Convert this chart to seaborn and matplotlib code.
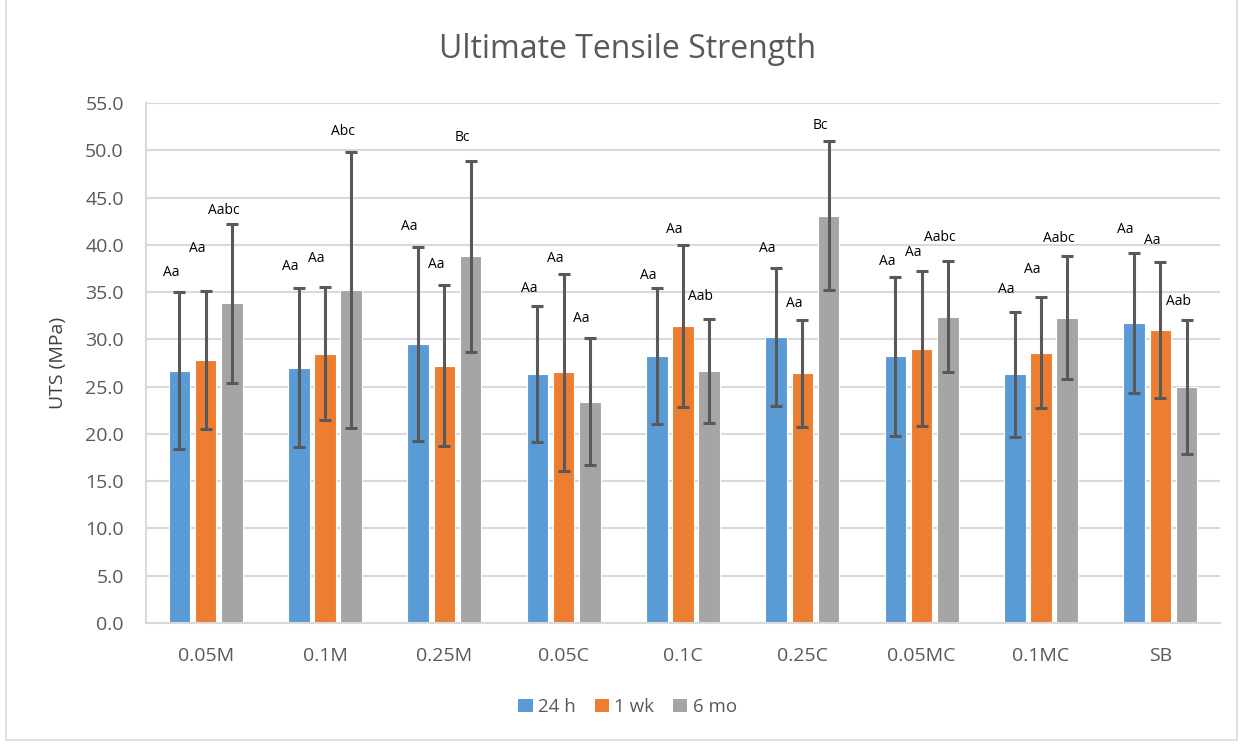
import matplotlib
matplotlib.use("Agg")
import matplotlib.pyplot as plt
import seaborn as sns
import pandas as pd
import numpy as np
from matplotlib.patches import Rectangle, Patch

categories = ["0.05M", "0.1M", "0.25M", "0.05C", "0.1C", "0.25C", "0.05MC", "0.1MC", "SB"]
series_names = ["24 h", "1 wk", "6 mo"]

mean_24h = [26.7, 27.0, 29.5, 26.3, 28.2, 30.3, 28.2, 26.3, 31.7]
mean_1wk = [27.8, 28.5, 27.2, 26.5, 31.4, 26.4, 29.0, 28.6, 31.0]
mean_6mo = [33.8, 35.2, 38.8, 23.4, 26.7, 43.1, 32.4, 32.3, 25.0]

sd_24h = [8.3, 8.4, 10.3, 7.2, 7.2, 7.3, 8.4, 6.6, 7.4]
sd_1wk = [7.3, 7.0, 8.5, 10.4, 8.6, 5.7, 8.2, 5.9, 7.2]
sd_6mo = [8.4, 14.6, 10.1, 6.7, 5.5, 7.9, 5.9, 6.5, 7.1]

labels_24h = ["Aa", "Aa", "Aa", "Aa", "Aa", "Aa", "Aa", "Aa", "Aa"]
labels_1wk = ["Aa", "Aa", "Aa", "Aa", "Aa", "Aa", "Aa", "Aa", "Aa"]
labels_6mo = ["Aabc", "Abc", "Bc", "Aa", "Aab", "Bc", "Aabc", "Aabc", "Aab"]

# label heights (data units)
label_y_24h = [37.1, 37.7, 41.9, 35.4, 36.8, 39.6, 38.2, 35.3, 41.6]
label_y_1wk = [39.6, 38.6, 37.9, 38.6, 41.6, 33.8, 39.2, 37.4, 40.5]
label_y_6mo = [43.6, 52.0, 51.3, 32.2, 34.5, 52.6, 40.8, 40.7, 34.0]

colors = ["#5B9BD5", "#ED7D31", "#A5A5A5"]

means = [mean_24h, mean_1wk, mean_6mo]
sds = [sd_24h, sd_1wk, sd_6mo]
labs = [labels_24h, labels_1wk, labels_6mo]
laby = [label_y_24h, label_y_1wk, label_y_6mo]

rows = []
for s, m in zip(series_names, means):
    for c, v in zip(categories, m):
        rows.append({"Group": c, "Time": s, "UTS": v})
df = pd.DataFrame(rows)

sns.set_style("white")
plt.rcParams["font.family"] = ["Open Sans", "DejaVu Sans"]

fig = plt.figure(figsize=(12.43, 7.44), dpi=100)
ax = fig.add_axes([146 / 1243, 1 - 623 / 744, (1220 - 146) / 1243, 520 / 744])

sns.barplot(data=df, x="Group", y="UTS", hue="Time", order=categories,
            hue_order=series_names, palette=colors, width=0.66, gap=0.18,
            errorbar=None, edgecolor="white", linewidth=0.8, ax=ax, legend=False,
            saturation=1)

bar_containers = list(ax.containers)
for i, cont in enumerate(bar_containers):
    xs = [b.get_x() + b.get_width() / 2 for b in cont.patches]
    ax.errorbar(xs, means[i], yerr=sds[i], fmt="none", ecolor="#595959",
                elinewidth=2.2, capsize=4, capthick=2.2, zorder=3)
    for x, t, yy in zip(xs, labs[i], laby[i]):
        ax.text(x - 0.07, yy, t, ha="center", va="center", fontsize=10,
                color="#000000")

ax.set_ylim(0, 55)
ax.set_xlim(-0.5, 8.5)
ax.set_yticks(np.arange(0, 55.1, 5))
ax.set_yticklabels([f"{v:.1f}" for v in np.arange(0, 55.1, 5)])
ax.yaxis.grid(True, color="#D9D9D9", linewidth=1.5)
ax.set_axisbelow(True)
for side in ["top", "right"]:
    ax.spines[side].set_visible(False)
ax.spines["left"].set_color("#D9D9D9")
ax.spines["left"].set_linewidth(1.5)
ax.spines["bottom"].set_color("#D9D9D9")
ax.spines["bottom"].set_linewidth(1.5)
ax.tick_params(axis="y", length=5, width=1.5, color="#D9D9D9", labelsize=14,
               labelcolor="#595959", pad=11)
ax.tick_params(axis="x", length=0, labelsize=14, labelcolor="#595959", pad=17)
ax.set_xlabel("")
ax.set_ylabel("UTS (MPa)", fontsize=14, color="#404040", labelpad=13)

fig.text(0.505, 1 - 50 / 744, "Ultimate Tensile Strength", ha="center",
         va="center", fontsize=23, color="#595959")

handles = [Patch(facecolor=c, edgecolor="none") for c in colors]
fig.legend(handles, series_names, loc="center", bbox_to_anchor=(0.505, 1 - 707 / 744),
           ncol=3, frameon=False, fontsize=13.5, handlelength=0.75,
           handleheight=0.75, handletextpad=0.3, columnspacing=1.0,
           labelcolor="#595959")

fig.patches.append(Rectangle((0.005, 0.006), 0.99, 1.1, transform=fig.transFigure,
                             fill=False, edgecolor="#D9D9D9", linewidth=1.2))

fig.savefig("out.png", dpi=100)
